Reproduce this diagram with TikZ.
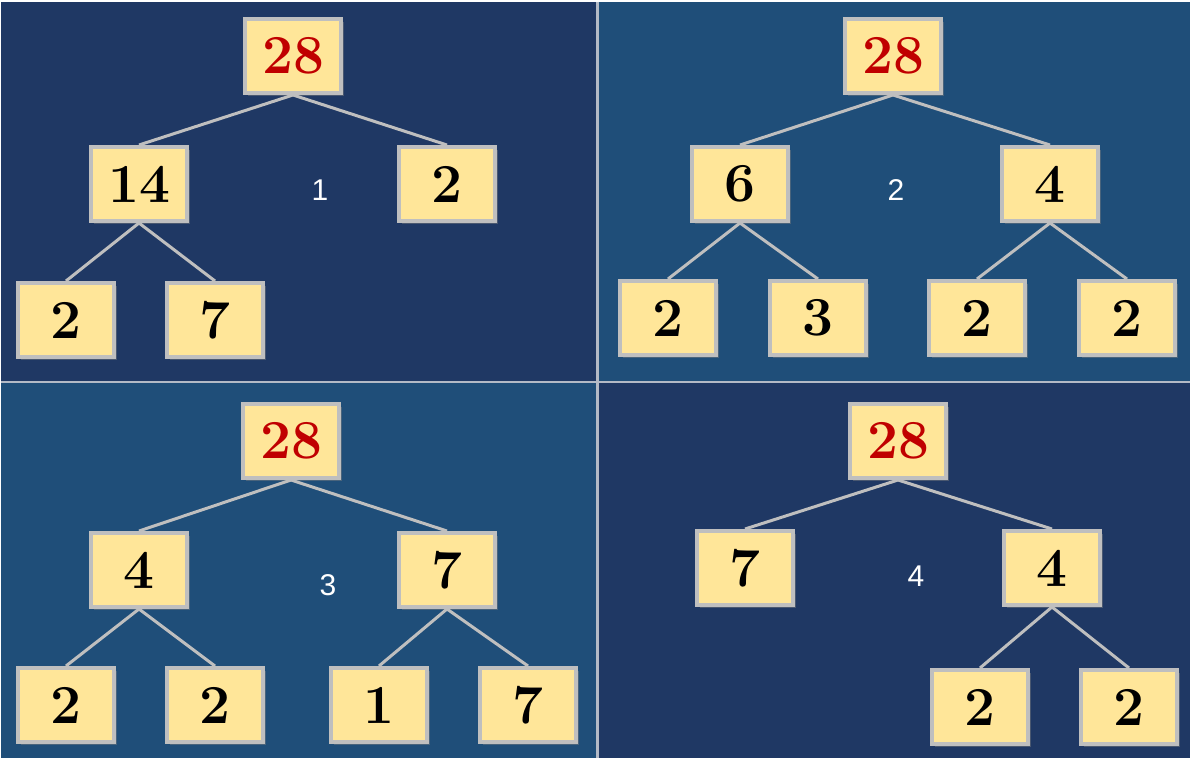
\documentclass[tikz,border=0pt]{standalone}
\usepackage{fontspec}
\setsansfont{Liberation Sans}
\usetikzlibrary{shadows}
\definecolor{navy}{HTML}{1F3864}
\definecolor{steel}{HTML}{1F4E79}
\definecolor{boxfill}{HTML}{FFE699}
\definecolor{boxline}{HTML}{BFBFBF}
\definecolor{rootred}{HTML}{C00000}
\definecolor{divider}{HTML}{B3BAC6}
\tikzset{
  numbox/.style={draw=boxline, fill=boxfill, line width=4pt,
    minimum width=96pt, minimum height=74pt, inner sep=0pt,
    font=\bfseries\fontsize{55}{62}\selectfont,
    drop shadow={shadow xshift=2.5pt, shadow yshift=-2.5pt, opacity=0.45}},
  rootbox/.style={numbox, text=rootred},
  branch/.style={draw=boxline, line width=3pt},
  panellabel/.style={text=white, font=\sffamily\fontsize{30}{34}\selectfont},
}
\begin{document}
\begin{tikzpicture}[x=1pt, y=-1pt]
  \useasboundingbox[fill=white] (0,0) rectangle (1190,758);
  % panels
  \fill[navy] (1,1.5) rectangle (597,382);
  \fill[steel] (597,1.5) rectangle (1190,382);
  \fill[steel] (1,382) rectangle (597,758);
  \fill[navy] (597,382) rectangle (1190,758);
  \draw[divider, line width=3pt] (597,1.5) -- (597,758);
  \draw[divider, line width=2.5pt] (1,382) -- (1190,382);

  % panel 1
  \node[rootbox] (r1) at (293,56) {28};
  \node[numbox] (a1) at (139,184) {14};
  \node[numbox] (b1) at (447,184) {2};
  \node[numbox] (a1x) at (66,320) {2};
  \node[numbox] (a1y) at (215,320) {7};
  \node[panellabel] (n1) at (320,190) {1};
  \foreach \p/\c in {r1/a1, r1/b1, a1/a1x, a1/a1y}
    \draw[branch] (\p.south) -- (\c.north);

  % panel 2
  \node[rootbox] (r2) at (893,56) {28};
  \node[numbox] (a2) at (740,184) {6};
  \node[numbox] (b2) at (1050,184) {4};
  \node[numbox] (a2x) at (668,318) {2};
  \node[numbox] (a2y) at (818,318) {3};
  \node[numbox] (b2x) at (977,318) {2};
  \node[numbox] (b2y) at (1127,318) {2};
  \node[panellabel] (n2) at (896,190) {2};
  \foreach \p/\c in {r2/a2, r2/b2, a2/a2x, a2/a2y, b2/b2x, b2/b2y}
    \draw[branch] (\p.south) -- (\c.north);

  % panel 3
  \node[rootbox] (r3) at (291,441) {28};
  \node[numbox] (a3) at (139,570) {4};
  \node[numbox] (b3) at (447,570) {7};
  \node[numbox] (a3x) at (66,705) {2};
  \node[numbox] (a3y) at (215,705) {2};
  \node[numbox] (b3x) at (379,705) {1};
  \node[numbox] (b3y) at (528,705) {7};
  \node[panellabel] (n3) at (328,585) {3};
  \foreach \p/\c in {r3/a3, r3/b3, a3/a3x, a3/a3y, b3/b3x, b3/b3y}
    \draw[branch] (\p.south) -- (\c.north);

  % panel 4
  \node[rootbox] (r4) at (898,441) {28};
  \node[numbox] (a4) at (745,568) {7};
  \node[numbox] (b4) at (1052,568) {4};
  \node[numbox] (b4x) at (980,707) {2};
  \node[numbox] (b4y) at (1129,707) {2};
  \node[panellabel] (n4) at (916,576) {4};
  \foreach \p/\c in {r4/a4, r4/b4, b4/b4x, b4/b4y}
    \draw[branch] (\p.south) -- (\c.north);
\end{tikzpicture}
\end{document}
